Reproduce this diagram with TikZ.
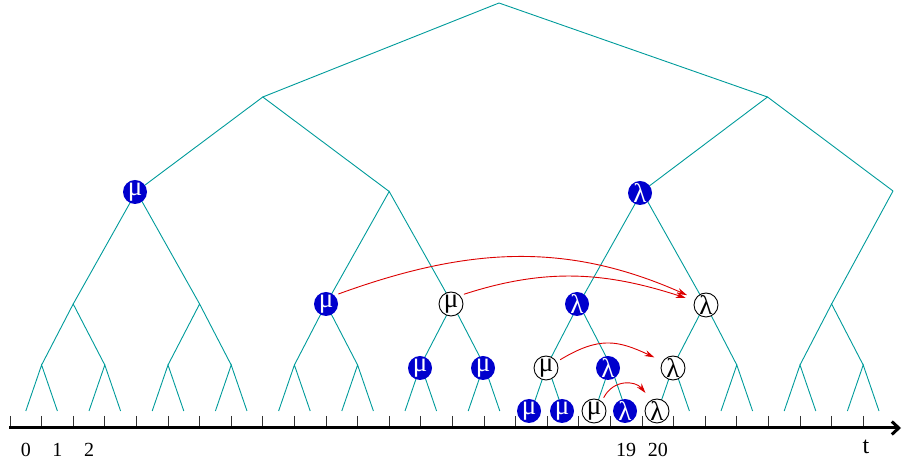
\documentclass[tikz,border=0pt]{standalone}
\usepackage{fontspec}
\setmainfont{Liberation Serif}
\usetikzlibrary{arrows.meta}
\definecolor{treecol}{RGB}{0,155,155}
\definecolor{nodeblue}{RGB}{0,0,205}
\definecolor{arrred}{RGB}{220,0,0}
\begin{document}
\begin{tikzpicture}[x=1pt,y=1pt,
  edge/.style={treecol, line width=0.9pt},
  bnode/.style={circle, fill=nodeblue, text=white, minimum size=24pt, inner sep=0pt, font=\fontsize{27}{27}\selectfont},
  wnode/.style={circle, draw=black, fill=white, text=black, line width=0.9pt, minimum size=24pt, inner sep=0pt, font=\fontsize{27}{27}\selectfont},
  jump/.style={arrred, line width=0.9pt, -{Stealth[length=10pt,width=6pt]}, shorten <=4pt, shorten >=9pt},
  tickmark/.style={line width=1pt, black!80},
  lab/.style={font=\fontsize{20}{20}\selectfont, anchor=base, inner sep=0pt}]
\useasboundingbox (0,0) rectangle (902,465);
% tree coordinates
\foreach \i in {0,...,27} \coordinate (L\i) at ({25.8+31.6*\i},54);
\foreach \j in {0,...,13} \coordinate (A\j) at ({41.6+63.2*\j},100);
\foreach \k in {0,...,6} \coordinate (B\k) at ({73.2+126.4*\k},161);
\coordinate (C0) at (136.4,273.5);
\coordinate (C1) at (389.2,273.5);
\coordinate (C2) at (642,273.5);
\coordinate (C3) at (893,274);
\coordinate (D0) at (262.8,368);
\coordinate (D1) at (767.5,368);
\coordinate (R) at (499,462);
% tree edges
\foreach \j in {0,...,13} {
  \pgfmathtruncatemacro\a{2*\j}
  \pgfmathtruncatemacro\b{2*\j+1}
  \draw[edge] (L\a) -- (A\j) -- (L\b);
}
\foreach \k in {0,...,6} {
  \pgfmathtruncatemacro\a{2*\k}
  \pgfmathtruncatemacro\b{2*\k+1}
  \draw[edge] (A\a) -- (B\k) -- (A\b);
}
\draw[edge] (B0) -- (C0) -- (B1);
\draw[edge] (B2) -- (C1) -- (B3);
\draw[edge] (B4) -- (C2) -- (B5);
\draw[edge] (B6) -- (C3);
\draw[edge] (C0) -- (D0) -- (C1);
\draw[edge] (C2) -- (D1) -- (C3);
\draw[edge] (D0) -- (R) -- (D1);
% axis
\coordinate (ax0) at (9,37);
\coordinate (ax1) at (901,37);
\foreach \i in {0,...,27} \draw[tickmark] ({10+31.6*\i},49) -- ({10+31.6*\i},37);
\draw[line width=3pt, -{Straight Barb[length=7pt,width=13pt]}] (ax0) -- (ax1);
\node[lab] (n0) at (25.8,8) {0};
\node[lab] (n1) at (57.4,8) {1};
\node[lab] (n2) at (89,8) {2};
\node[lab] (n19) at (626.2,8) {19};
\node[lab] (n20) at (657.8,8) {20};
\node[lab, font=\fontsize{24}{24}\selectfont] (tl) at (866,11) {t};
% labelled nodes
\node[bnode] (m3) at (135,273) {μ};
\node[bnode] (l3) at (640,272) {λ};
\node[bnode] (m2a) at (326,161) {μ};
\node[wnode] (m2b) at (451,161) {μ};
\node[bnode] (l2a) at (577,161) {λ};
\node[wnode] (l2b) at (706,160) {λ};
\node[bnode] (m1a) at (420,97) {μ};
\node[bnode] (m1b) at (483,97) {μ};
\node[wnode] (m1c) at (546,97) {μ};
\node[bnode] (l1a) at (608,97) {λ};
\node[wnode] (l1b) at (673,97) {λ};
\node[bnode] (m0a) at (529,54) {μ};
\node[bnode] (m0b) at (562,54) {μ};
\node[wnode] (m0c) at (594,54) {μ};
\node[bnode] (l0a) at (625,54) {λ};
\node[wnode] (l0b) at (657,54) {λ};
% red arrows
\draw[jump] (m2a.45) to[out=20,in=156] (l2b.150);
\draw[jump] (m2b.43) to[out=18,in=162] (l2b.160);
\draw[jump] (m1c.30) to[out=31,in=155,looseness=1.2] (l1b.147);
\draw[jump] (m0c.51) to[out=63,in=129,looseness=1.3] (l0b.118);
\end{tikzpicture}
\end{document}
